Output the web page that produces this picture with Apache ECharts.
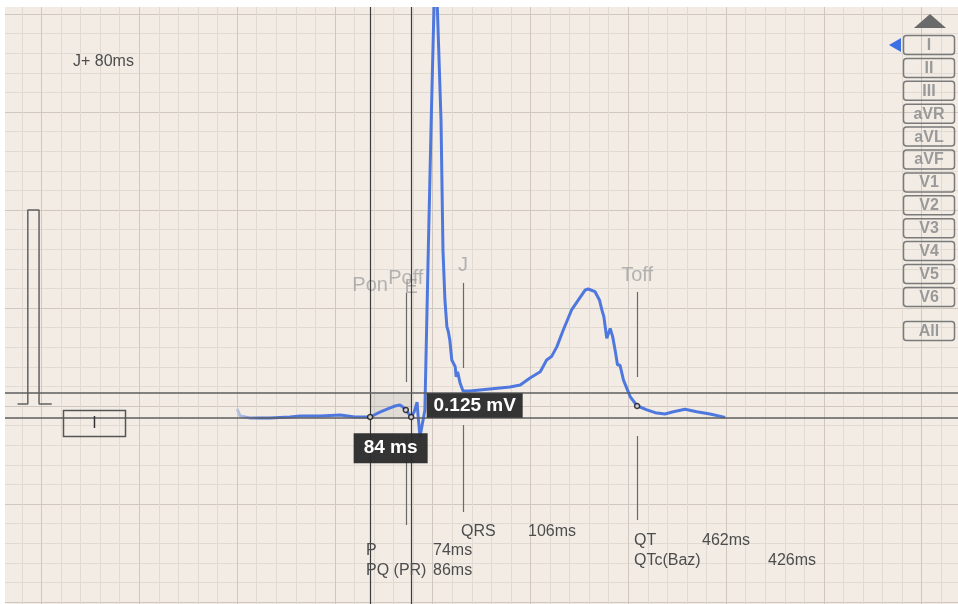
<!DOCTYPE html>
<html><head><meta charset="utf-8">
<script src="https://cdn.jsdelivr.net/npm/echarts@6/dist/echarts.min.js"></script>
<style>html,body{margin:0;padding:0;background:#fff}#c{width:958px;height:604px}</style>
</head><body><div id="c"></div>
<script>
// ECG lead I — time in ms, amplitude in mV
const timeMs = [600,606,626,667,708,729,770,811,841,862,872,892,913,923,933,939,945,950,956,962,968,970,974,984,991,997,1001,1005,1009,1017,1021,1025,1029,1032,1035,1039,1046,1048,1051,1056,1062,1076,1117,1158,1179,1199,1220,1233,1243,1254,1267,1284,1298,1312,1318,1332,1341,1346,1350,1356,1363,1368,1373,1378,1383,1390,1397,1404,1414,1419,1438,1455,1475,1492,1516,1540,1567,1598];
const mV = [-0.015,-0.051,-0.061,-0.061,-0.056,-0.051,-0.051,-0.046,-0.056,-0.056,-0.056,-0.031,-0.010,0,0.005,-0.005,-0.020,-0.036,-0.056,-0.031,0.020,-0.046,-0.158,-0.020,0.796,1.459,1.867,2.25,2.071,1.459,0.796,0.541,0.405,0.379,0.337,0.235,0.201,0.149,0.175,0.117,0.077,0.077,0.087,0.097,0.107,0.143,0.175,0.235,0.252,0.303,0.388,0.490,0.541,0.592,0.597,0.583,0.541,0.490,0.456,0.345,0.396,0.354,0.286,0.209,0.209,0.133,0.090,0.047,0.014,0,-0.020,-0.034,-0.041,-0.029,-0.017,-0.029,-0.041,-0.058];

// 1 mV calibration pulse
const calTimeMs = [151,172,172,195,195,221];
const calMV = [0.01,0.01,1.0,1.0,0.01,0.01];

// fiducial points
const fiducialNames = ['Pon','Poff','E','J','Toff'];
const fiducialMs = [872,945,956,1062,1418];
const fiducialDotMV = [-0.056,-0.020,-0.056,null,0];
const fiducialLabelMV = [0.617,0.653,0.607,0.719,0.668];
// short fiducial tick segments [upperTop, upperBottom, lowerTop, lowerBottom] in mV
const tickNames = ['Poff','J','Toff'];
const tickMs = [945,1062,1418];
const tickMV = [[0.577,0.122,-0.158,-0.607],[0.628,0.194,-0.097,-0.541],[0.582,0.148,-0.153,-0.582]];

// caliper (Pon -> QRS onset, amplitude band)
const caliperMs = [872,956];
const caliperMV = [-0.06,0.065];
const caliperTexts = ['0.125 mV','84 ms'];

// leads
const leadNames = ['I','II','III','aVR','aVL','aVF','V1','V2','V3','V4','V5','V6'];
const currentLead = 'I';

// measurements
const measureNames = ['QRS','P','PQ (PR)','QT','QTc(Baz)'];
const measureValues = ['106ms','74ms','86ms','462ms','426ms'];
const headerText = 'J+ 80ms';

const chart = echarts.init(document.getElementById('c'), null, {renderer:'canvas'});

const markLineData = [
  {xAxis: caliperMs[0], lineStyle:{color:'#3c3c3c', width:1.2}},
  {xAxis: caliperMs[1], lineStyle:{color:'#3c3c3c', width:1.2}},
  {yAxis: caliperMV[0], lineStyle:{color:'#5e5e5e', width:1.5}},
  {yAxis: caliperMV[1], lineStyle:{color:'#5e5e5e', width:1.5}}
];
tickMs.forEach((t,i)=>{
  const m = tickMV[i];
  markLineData.push([{coord:[t,m[0]]},{coord:[t,m[1]]}]);
  markLineData.push([{coord:[t,m[2]]},{coord:[t,m[3]]}]);
});

const option = {
  animation:false,
  grid:{left:-56.3, top:-84, width:1075.8, height:784, containLabel:false, outerBoundsMode:'none',
    show:true, backgroundColor:'#F2ECE5', borderWidth:0},
  xAxis:{type:'value', min:0, max:2200, interval:200,
    axisLine:{show:false}, axisTick:{show:false}, axisLabel:{show:false},
    splitLine:{show:true, lineStyle:{color:'#d0c8c0', width:1}},
    minorTick:{show:false, splitNumber:5},
    minorSplitLine:{show:true, lineStyle:{color:'#e1dad2', width:1}}},
  yAxis:{type:'value', min:-1.5, max:2.5, interval:0.5,
    axisLine:{show:false}, axisTick:{show:false}, axisLabel:{show:false},
    splitLine:{show:true, lineStyle:{color:'#d0c8c0', width:1}},
    minorTick:{show:false, splitNumber:5},
    minorSplitLine:{show:true, lineStyle:{color:'#e1dad2', width:1}}},
  series:[
    {type:'line', name:'calibration', data: calTimeMs.map((t,i)=>[t,calMV[i]]),
      symbol:'none', lineStyle:{color:'#626262', width:1.5}, z:3},
    {type:'line', name:'caliper', data:[], z:2,
      markLine:{silent:true, symbol:'none', label:{show:false},
        lineStyle:{color:'#6a6a6a', width:1.2, type:'solid'}, data: markLineData},
      markArea:{silent:true, itemStyle:{color:'rgba(0,0,0,0.07)'},
        data:[[{coord:[caliperMs[0],caliperMV[1]]},{coord:[caliperMs[1],caliperMV[0]]}]]}},
    {type:'line', name:'Lead I', data: timeMs.map((t,i)=>[t,mV[i]]),
      symbol:'none', z:4,
      lineStyle:{width:3, color:{type:'linear', x:0, y:0, x2:1, y2:0,
        colorStops:[{offset:0,color:'#c9ccd8'},{offset:0.025,color:'#8fa6e6'},{offset:0.05,color:'#4f78de'},{offset:1,color:'#4f78de'}]}}},
    {type:'scatter', name:'fiducials', z:5,
      data: fiducialMs.map((t,i)=>[t,fiducialDotMV[i]]).filter(d=>d[1]!==null),
      symbol:'circle', symbolSize:5, itemStyle:{color:'#efe7df', borderColor:'#111', borderWidth:1.5}},
    {type:'scatter', name:'labels', z:3, symbolSize:0, silent:true,
      data: fiducialMs.map((t,i)=>({value:[t,fiducialLabelMV[i]], name:fiducialNames[i]})),
      label:{show:true, position:'inside', formatter:p=>p.name,
        fontFamily:'Liberation Sans, Arial, sans-serif', fontSize:20, color:'rgba(150,150,150,0.85)'}}
  ]
};
chart.setOption(option);

function px(t,v){ return chart.convertToPixel({gridIndex:0},[t,v]); }

const graphics = [];
// white page margin
graphics.push({type:'rect', shape:{x:0,y:0,width:958,height:7}, style:{fill:'#ffffff'}, z:100});
graphics.push({type:'rect', shape:{x:0,y:0,width:5,height:604}, style:{fill:'#ffffff'}, z:100});

// header
graphics.push({type:'text', x:73, y:62, style:{text:headerText, fill:'#4d4d4d', font:'16px "Liberation Sans", Arial, sans-serif', verticalAlign:'middle'}, z:50});

// lead label box
graphics.push({type:'rect', shape:{x:63.5,y:410.5,width:62,height:26}, style:{fill:'none', stroke:'#555', lineWidth:1.5}, z:50});
graphics.push({type:'text', x:94.5, y:423.5, style:{text:currentLead, fill:'#333', font:'16px "Liberation Sans", Arial, sans-serif', align:'center', verticalAlign:'middle'}, z:50});

// measurement texts
const mPos = [[461,532,528],[366,551,433],[366,571,433],[634,541,702],[634,561,768]];
measureNames.forEach((n,i)=>{
  const p = mPos[i];
  graphics.push({type:'text', x:p[0], y:p[1], style:{text:n, fill:'#4d4d4d', font:'16px "Liberation Sans", Arial, sans-serif', verticalAlign:'middle'}, z:50});
  graphics.push({type:'text', x:p[2], y:p[1], style:{text:measureValues[i], fill:'#4d4d4d', font:'16px "Liberation Sans", Arial, sans-serif', verticalAlign:'middle'}, z:50});
});

// caliper readouts
const pOn = px(caliperMs[0], caliperMV[0]);
const qOn = px(caliperMs[1], caliperMV[1]);
const yLow = px(caliperMs[1], caliperMV[0])[1];
const yHigh = qOn[1];
graphics.push({type:'rect', shape:{x:qOn[0]+15.5, y:yHigh, width:96, height:yLow-yHigh}, style:{fill:'rgba(42,42,42,0.95)'}, z:60});
graphics.push({type:'text', x:qOn[0]+15.5+48, y:(yHigh+yLow)/2+0.5, style:{text:caliperTexts[0], fill:'#fff', font:'bold 19px "Liberation Sans", Arial, sans-serif', align:'center', verticalAlign:'middle'}, z:61});
const midX = (pOn[0]+qOn[0])/2;
graphics.push({type:'rect', shape:{x:midX-37, y:yLow+15.5, width:74, height:30}, style:{fill:'rgba(42,42,42,0.95)'}, z:60});
graphics.push({type:'text', x:midX, y:yLow+15.5+15, style:{text:caliperTexts[1], fill:'#fff', font:'bold 19px "Liberation Sans", Arial, sans-serif', align:'center', verticalAlign:'middle'}, z:61});

// lead selector
graphics.push({type:'polygon', shape:{points:[[914,28],[946,28],[930,14]]}, style:{fill:'#6a6a6a'}, z:50});
leadNames.forEach((n,i)=>{
  const top = 35.5 + i*22.9;
  graphics.push({type:'rect', shape:{x:903.5, y:top, width:51, height:19, r:3}, style:{fill:'none', stroke:'#7a7a7a', lineWidth:1.5}, z:50});
  graphics.push({type:'text', x:929, y:top+10, style:{text:n, fill:'#999999', font:'bold 16px "Liberation Sans", Arial, sans-serif', align:'center', verticalAlign:'middle'}, z:51});
  if(n===currentLead){
    graphics.push({type:'polygon', shape:{points:[[889,top+9.5],[901,top+2.5],[901,top+16.5]]}, style:{fill:'#3f6fe4'}, z:51});
  }
});
graphics.push({type:'rect', shape:{x:903.5, y:321.5, width:51, height:19, r:3}, style:{fill:'none', stroke:'#7a7a7a', lineWidth:1.5}, z:50});
graphics.push({type:'text', x:929, y:331.5, style:{text:'All', fill:'#999999', font:'bold 16px "Liberation Sans", Arial, sans-serif', align:'center', verticalAlign:'middle'}, z:51});

chart.setOption({graphic: graphics});
</script></body></html>
